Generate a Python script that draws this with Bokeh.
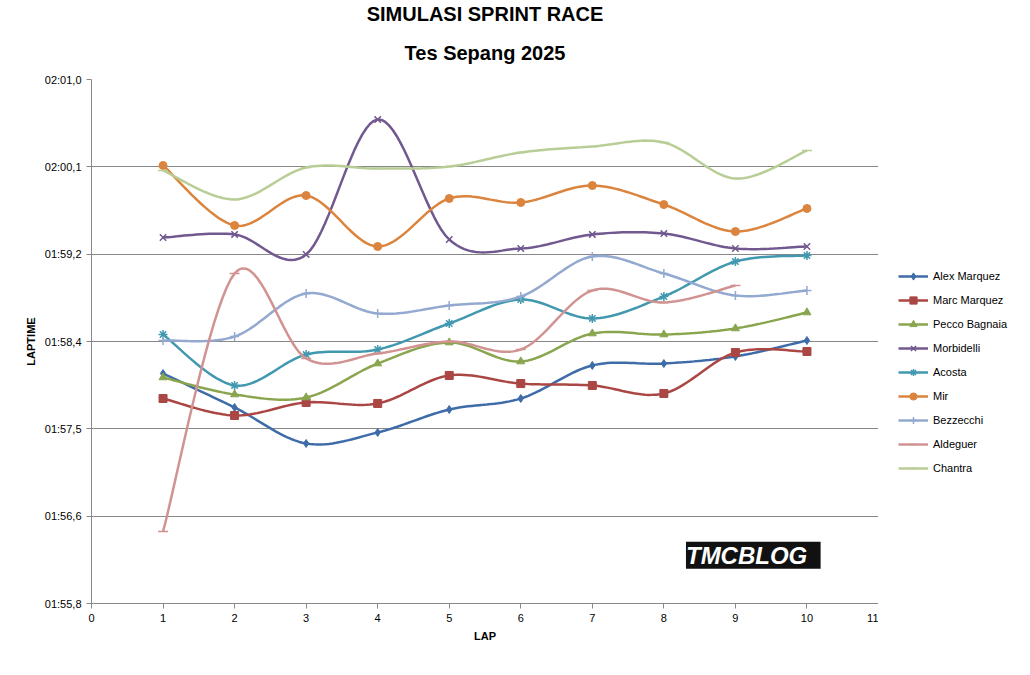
import numpy as np
from bokeh.plotting import figure
from bokeh.layouts import row
from bokeh.models import FixedTicker, Legend, LegendItem, Title, Label, Range1d
from bokeh.embed import file_html
from bokeh.resources import INLINE

laps = [1, 2, 3, 4, 5, 6, 7, 8, 9, 10]
alex = [118.051, 117.715, 117.359, 117.468, 117.695, 117.804, 118.131, 118.150, 118.220, 118.378]
marc = [117.804, 117.636, 117.765, 117.755, 118.032, 117.952, 117.933, 117.854, 118.259, 118.269]
pecco = [118.012, 117.844, 117.814, 118.150, 118.358, 118.170, 118.447, 118.437, 118.497, 118.655]
morbidelli = [119.397, 119.427, 119.229, 120.564, 119.377, 119.288, 119.427, 119.436, 119.288, 119.308]
acosta = [118.437, 117.933, 118.239, 118.289, 118.546, 118.783, 118.596, 118.813, 119.159, 119.219]
mir = [120.109, 119.516, 119.812, 119.308, 119.783, 119.743, 119.911, 119.723, 119.456, 119.684]
bezzecchi = [118.378, 118.417, 118.843, 118.645, 118.724, 118.813, 119.209, 119.041, 118.823, 118.873]
aldeguer = [116.488, 119.041, 118.200, 118.249, 118.368, 118.289, 118.873, 118.754, 118.922]
chantra = [120.060, 119.773, 120.089, 120.079, 120.099, 120.238, 120.297, 120.337, 119.980, 120.257]

y_ticks = [115.776, 116.640, 117.504, 118.368, 119.232, 120.096, 120.960]
y_labels = ["01:55,8", "01:56,6", "01:57,5", "01:58,4", "01:59,2", "02:00,1", "02:01,0"]

series = [
    ("Alex Marquez", alex, "#3F6CA9", "diamond"),
    ("Marc Marquez", marc, "#AA4643", "square"),
    ("Pecco Bagnaia", pecco, "#89A54E", "triangle"),
    ("Morbidelli", morbidelli, "#71588F", "x"),
    ("Acosta", acosta, "#4198AF", "asterisk"),
    ("Mir", mir, "#DB843D", "circle"),
    ("Bezzecchi", bezzecchi, "#93A9CF", "cross"),
    ("Aldeguer", aldeguer, "#D19392", "dash"),
    ("Chantra", chantra, "#B9CD96", "dash"),
]

def smooth(xs, ys, n=20):
    xs = np.asarray(xs, float); ys = np.asarray(ys, float)
    px = np.concatenate([[xs[0]], xs, [xs[-1]]]); py = np.concatenate([[ys[0]], ys, [ys[-1]]])
    ox, oy = [], []
    t = np.linspace(0, 1, n)
    for i in range(1, len(px) - 2):
        p0 = np.array([px[i], py[i]]); p3 = np.array([px[i+1], py[i+1]])
        c1 = p0 + (np.array([px[i+1], py[i+1]]) - np.array([px[i-1], py[i-1]])) / 6
        c2 = p3 - (np.array([px[i+2], py[i+2]]) - np.array([px[i], py[i]])) / 6
        b = ((1-t)**3)[:, None]*p0 + (3*(1-t)**2*t)[:, None]*c1 + (3*(1-t)*t**2)[:, None]*c2 + (t**3)[:, None]*p3
        ox.extend(b[:, 0]); oy.extend(b[:, 1])
    return ox, oy

F = "Liberation Sans"
p = figure(frame_width=787, frame_height=524, output_backend="svg", toolbar_location=None,
           x_range=(0, 11), y_range=(115.776, 120.96),
           min_border_left=91, min_border_right=0, min_border_top=35, min_border_bottom=48)
p.title.visible = False
p.add_layout(Title(text="Tes Sepang 2025", align="center", text_font_size="20px", text_font=F,
                   text_font_style="bold", text_color="black", standoff=31, offset=30), "above")
p.add_layout(Title(text="SIMULASI SPRINT RACE", align="center", text_font_size="20px", text_font=F,
                   text_font_style="bold", text_color="black", standoff=0, offset=30), "above")

p.xaxis.ticker = FixedTicker(ticks=list(range(0, 12)))
p.yaxis.ticker = FixedTicker(ticks=y_ticks)
p.yaxis.major_label_overrides = {t: l for t, l in zip(y_ticks, y_labels)}
p.xaxis.axis_label = "LAP"
p.yaxis.axis_label = "LAPTIME"
for ax in (p.xaxis, p.yaxis):
    ax.axis_label_text_font = F
    ax.axis_label_text_font_style = "bold"
    ax.axis_label_text_font_size = "11px"
    ax.axis_label_text_color = "black"
    ax.major_label_text_font = F
    ax.major_label_text_font_size = "11px"
    ax.major_label_text_color = "black"
    ax.minor_tick_line_color = None
    ax.axis_line_color = "#888888"
    ax.major_tick_line_color = "#888888"
    ax.major_tick_in = 0
    ax.major_tick_out = 5
p.xgrid.grid_line_color = None
p.ygrid.grid_line_color = "#888888"
p.outline_line_color = None

lf = figure(width=136, height=659, output_backend="svg", toolbar_location=None,
            x_range=Range1d(0, 1), y_range=Range1d(0, 1), min_border=0)
lf.axis.visible = False
lf.grid.visible = False
lf.outline_line_color = None

items = []
for name, ys, col, mk in series:
    xs = laps[:len(ys)]
    sx, sy = smooth(xs, ys)
    kw = dict(size=8, line_color=col, fill_color=col)
    if mk in ("x", "asterisk", "cross", "dash"):
        kw = dict(size=9 if mk != "dash" else 10, line_color=col, line_width=1.5)
    p.line(sx, sy, line_color=col, line_width=2.5)
    p.scatter(xs, ys, marker=mk, **kw)
    l1 = lf.line([5, 6], [5, 5], line_color=col, line_width=2.5)
    l2 = lf.scatter([5], [5], marker=mk, **kw)
    items.append(LegendItem(label=name, renderers=[l1, l2]))

leg = Legend(items=items, location=(20, 134), label_text_font=F,
             label_text_font_size="11px", border_line_color=None, background_fill_alpha=0,
             glyph_width=30, glyph_height=18, spacing=6, padding=0, margin=0, label_text_color="black")
lf.add_layout(leg, "center")

p.add_layout(Label(x=9.25, y=116.12, text=" TMCBLOG ", text_font=F, text_font_style="bold italic",
                   text_font_size="24px", text_color="white", background_fill_color="#111111",
                   text_align="center"))

open("out.html", "w").write(file_html(row(p, lf), INLINE))
